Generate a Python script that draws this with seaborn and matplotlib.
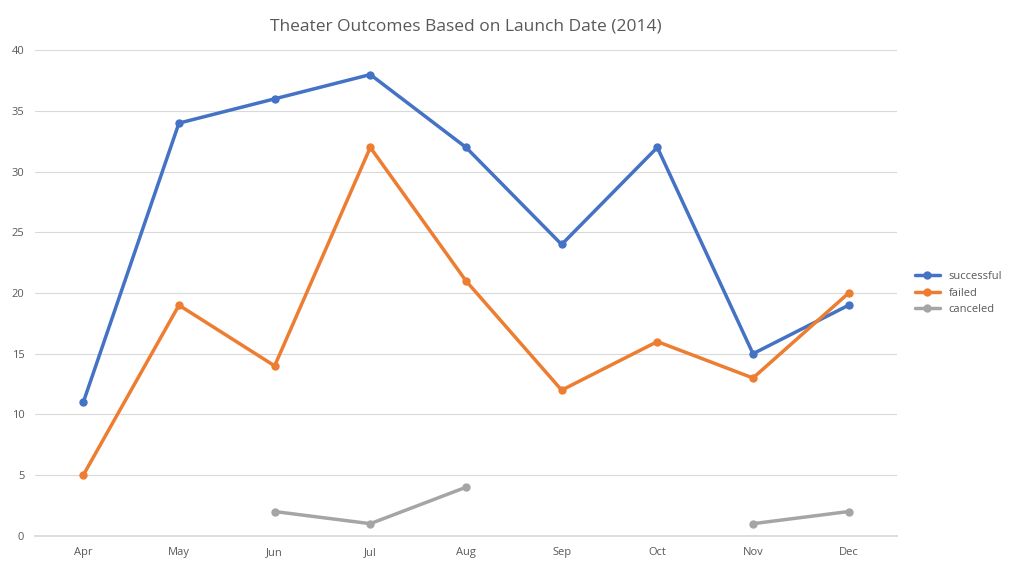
import numpy as np
import matplotlib
matplotlib.use("Agg")
import matplotlib.pyplot as plt
import seaborn as sns

sns.set_theme(style="white")
plt.rcParams['font.family'] = ['Open Sans', 'DejaVu Sans']

months = ['Apr', 'May', 'Jun', 'Jul', 'Aug', 'Sep', 'Oct', 'Nov', 'Dec']
successful = [11, 34, 36, 38, 32, 24, 32, 15, 19]
failed = [5, 19, 14, 32, 21, 12, 16, 13, 20]
canceled = [np.nan, np.nan, 2, 1, 4, np.nan, np.nan, 1, 2]

series = [('successful', successful, '#4472C4'),
          ('failed', failed, '#ED7D31'),
          ('canceled', canceled, '#A5A5A5')]

fig = plt.figure(figsize=(10.13, 5.78), dpi=100)
ax = fig.add_axes([0.035, 0.073, 0.85, 0.84])
x = np.arange(len(months))
for name, vals, col in series:
    ax.plot(x, vals, color=col, lw=2.5, marker='o', ms=5, label=name)

ax.set_xlim(-0.5, len(months) - 0.5)
ax.set_ylim(0, 40)
ax.set_yticks(range(0, 41, 5))
ax.set_xticks(x, months)
ax.grid(axis='y', color='#D9D9D9', lw=0.8)
ax.set_axisbelow(True)
sns.despine(ax=ax, left=True)
ax.spines['bottom'].set_color('#D9D9D9')
ax.tick_params(axis='both', labelsize=8, colors='#595959', length=0, pad=8)
ax.set_title('Theater Outcomes Based on Launch Date (2014)', fontsize=12.5,
             color='#595959', pad=14)
ax.legend(loc='center left', bbox_to_anchor=(1.01, 0.5), frameon=False,
          fontsize=8, labelcolor='#595959', handlelength=2.2)
fig.savefig('out.png', dpi=100)
